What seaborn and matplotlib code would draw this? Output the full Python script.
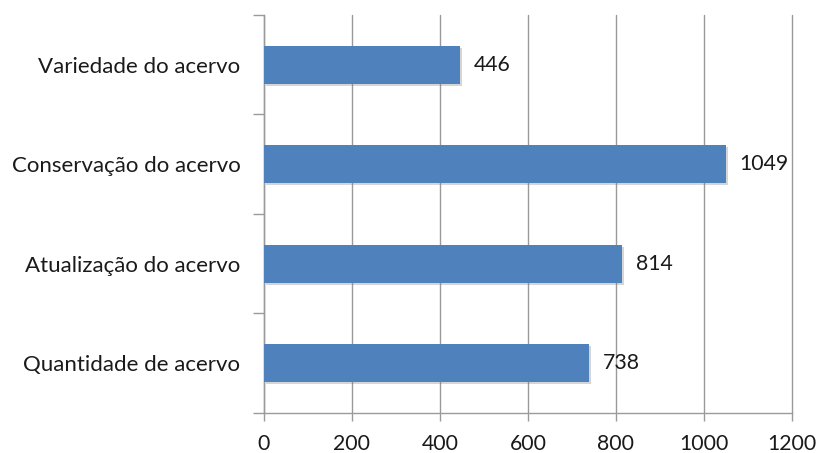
import matplotlib
matplotlib.use("Agg")
import matplotlib.pyplot as plt
import matplotlib.patheffects as pe
from matplotlib.ticker import FixedLocator
import seaborn as sns
import pandas as pd

categories = ["Variedade do acervo", "Conservação do acervo",
              "Atualização do acervo", "Quantidade de acervo"]
values = [446, 1049, 814, 738]
x_ticks = [0, 200, 400, 600, 800, 1000, 1200]

sns.set_theme(style="white")
plt.rcParams["font.family"] = ["Lato", "DejaVu Sans"]

df = pd.DataFrame({"categoria": categories, "total": values})

fig = plt.figure(figsize=(8.19, 4.53), dpi=100)
ax = fig.add_axes([0.3223, 0.0883, 0.9670 - 0.3223, 0.9669 - 0.0883])

grid_color = "#9a9a9a"
text_color = "#1a1a1a"
cat_fs = 16
num_fs = 15.3

sns.barplot(data=df, x="total", y="categoria", orient="h",
            color="#4F81BD", width=0.38, saturation=1, ax=ax, zorder=3,
            edgecolor="none", linewidth=0)

for patch in ax.patches:
    patch.set_path_effects([
        pe.SimplePatchShadow(offset=(1.5, -1.5), shadow_rgbFace="#777777", alpha=0.3),
        pe.Normal(),
    ])

ax.bar_label(ax.containers[0], labels=[str(v) for v in values],
             padding=10, fontsize=num_fs, color=text_color)

ax.set_xlim(0, 1200)
ax.set_ylim(3.5, -0.5)
ax.set_xticks(x_ticks)
ax.set_xticklabels([str(t) for t in x_ticks], fontsize=num_fs, color=text_color)
ax.xaxis.grid(True, color=grid_color, linewidth=1.0, zorder=0)
for gl in ax.get_xgridlines():
    gl.set_clip_on(False)
ax.set_axisbelow(True)

ax.set_xlabel("")
ax.set_ylabel("")

# category labels without tick marks; boundary ticks drawn as minor ticks
ax.tick_params(axis="y", which="major", length=0, pad=17, labelsize=cat_fs,
               labelcolor=text_color)
ax.yaxis.set_minor_locator(FixedLocator([-0.5, 0.5, 1.5, 2.5, 3.5]))
ax.tick_params(axis="y", which="minor", length=8, width=1, color=grid_color,
               direction="out", left=True)
ax.tick_params(axis="x", which="major", length=6, width=1, color=grid_color,
               direction="out", bottom=True, pad=9)

for side in ["top", "right"]:
    ax.spines[side].set_visible(False)
for side in ["left", "bottom"]:
    ax.spines[side].set_color(grid_color)
    ax.spines[side].set_linewidth(1.0)

fig.savefig("out.png", dpi=100)
